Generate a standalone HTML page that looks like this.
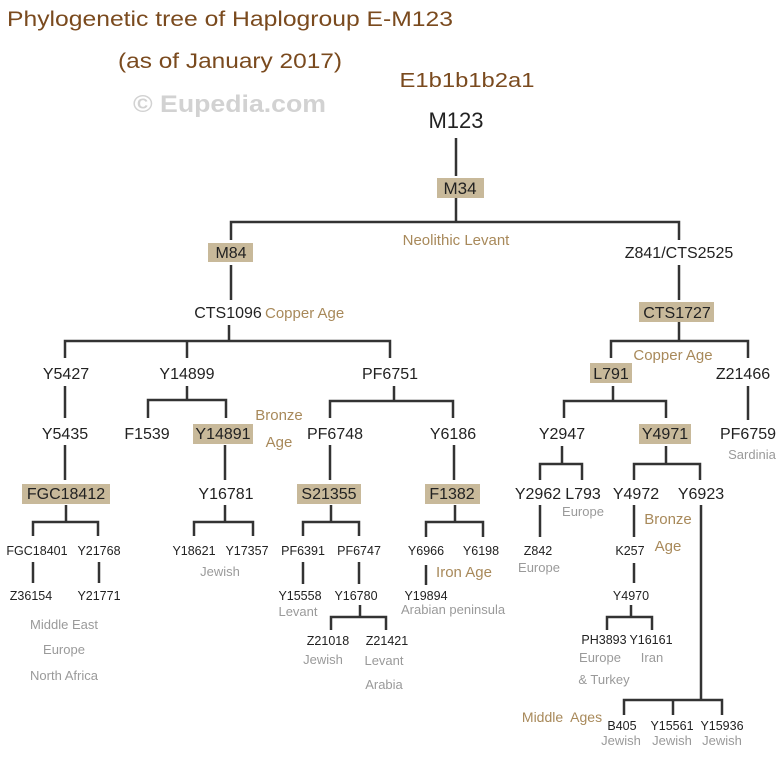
<!DOCTYPE html>
<html><head><meta charset="utf-8"><style>
html,body{margin:0;padding:0;background:#fff;}
svg{display:block;font-family:"Liberation Sans",sans-serif;}
.n{font-size:16px;fill:#222;text-anchor:middle;}
.s{font-size:12.5px;fill:#222;text-anchor:middle;}
.t{fill:#a8895a;text-anchor:middle;font-size:15px;}
.g{fill:#9a9a9a;text-anchor:middle;font-size:13px;}
line,polyline{stroke:#333;stroke-width:2.5;fill:none;}
rect{fill:#c8b99a;}
</style></head><body>
<svg width="780" height="758" viewBox="0 0 780 758">
<text x="7" y="26" font-size="21" fill="#7a4a1e" textLength="446" lengthAdjust="spacingAndGlyphs">Phylogenetic tree of Haplogroup E-M123</text>
<text x="118" y="68" font-size="21" fill="#7a4a1e" textLength="224" lengthAdjust="spacingAndGlyphs">(as of January 2017)</text>
<text x="467" y="87" font-size="20" fill="#7a4a1e" text-anchor="middle" textLength="135" lengthAdjust="spacingAndGlyphs">E1b1b1b2a1</text>
<text x="133" y="112" font-size="24" font-weight="bold" fill="#d2d2d2" textLength="193" lengthAdjust="spacingAndGlyphs">© Eupedia.com</text>

<text x="456" y="128" class="n" style="font-size:22px">M123</text>
<line x1="456" y1="138" x2="456" y2="176"/>
<rect x="437" y="178" width="47" height="20"/><text x="460" y="194" class="n" style="font-size:17px">M34</text>
<line x1="456" y1="198" x2="456" y2="222"/>
<polyline points="231,240 231,222 679,222 679,240"/>
<text x="456" y="245" class="t">Neolithic Levant</text>
<rect x="208" y="243" width="45" height="19"/><text x="231" y="258" class="n">M84</text>
<text x="679" y="258" class="n">Z841/CTS2525</text>
<line x1="231" y1="265" x2="231" y2="300"/>
<line x1="679" y1="265" x2="679" y2="300"/>
<text x="228" y="318" class="n">CTS1096</text>
<text x="265" y="318" class="t" style="text-anchor:start">Copper Age</text>
<rect x="639" y="302" width="75" height="20"/><text x="677" y="318" class="n">CTS1727</text>

<line x1="229" y1="325" x2="229" y2="341"/>
<polyline points="65,358 65,341 390,341 390,358"/>
<line x1="187" y1="341" x2="187" y2="358"/>
<line x1="679" y1="322" x2="679" y2="341"/>
<polyline points="611,358 611,341 748,341 748,358"/>
<text x="673" y="360" class="t">Copper Age</text>
<text x="66" y="379" class="n">Y5427</text>
<text x="187" y="379" class="n">Y14899</text>
<text x="390" y="379" class="n">PF6751</text>
<rect x="590" y="363" width="42" height="20"/><text x="611" y="379" class="n">L791</text>
<text x="743" y="379" class="n">Z21466</text>

<line x1="65" y1="386" x2="65" y2="418"/>
<line x1="187" y1="386" x2="187" y2="400"/>
<polyline points="148,418 148,400 226,400 226,418"/>
<line x1="394" y1="386" x2="394" y2="401"/>
<polyline points="330,418 330,401 453,401 453,418"/>
<line x1="613" y1="386" x2="613" y2="401"/>
<polyline points="564,418 564,401 666,401 666,418"/>
<line x1="748" y1="386" x2="748" y2="420"/>
<text x="65" y="439" class="n">Y5435</text>
<text x="147" y="439" class="n">F1539</text>
<rect x="193" y="424" width="60" height="20"/><text x="223" y="439" class="n">Y14891</text>
<text x="279" y="420" class="t">Bronze</text>
<text x="279" y="447" class="t">Age</text>
<text x="335" y="439" class="n">PF6748</text>
<text x="453" y="439" class="n">Y6186</text>
<text x="562" y="439" class="n">Y2947</text>
<rect x="639" y="424" width="52" height="20"/><text x="665" y="439" class="n">Y4971</text>
<text x="748" y="439" class="n">PF6759</text>
<text x="752" y="459" class="g">Sardinia</text>

<line x1="65" y1="445" x2="65" y2="480"/>
<line x1="225" y1="445" x2="225" y2="480"/>
<line x1="330" y1="445" x2="330" y2="480"/>
<line x1="454" y1="445" x2="454" y2="480"/>
<line x1="562" y1="446" x2="562" y2="464"/>
<polyline points="540,480 540,464 582,464 582,480"/>
<line x1="666" y1="446" x2="666" y2="464"/>
<polyline points="634,480 634,464 700,464 700,480"/>
<rect x="22" y="484" width="88" height="20"/><text x="66" y="499" class="n">FGC18412</text>
<text x="226" y="499" class="n">Y16781</text>
<rect x="297" y="484" width="64" height="20"/><text x="329" y="499" class="n">S21355</text>
<rect x="425" y="484" width="55" height="20"/><text x="452" y="499" class="n">F1382</text>
<text x="538" y="499" class="n">Y2962</text>
<text x="583" y="499" class="n">L793</text>
<text x="583" y="516" class="g">Europe</text>
<text x="636" y="499" class="n">Y4972</text>
<text x="701" y="499" class="n">Y6923</text>
<text x="668" y="524" class="t">Bronze</text>
<text x="668" y="551" class="t">Age</text>

<line x1="66" y1="505" x2="66" y2="522"/>
<polyline points="33,536 33,522 98,522 98,536"/>
<line x1="225" y1="505" x2="225" y2="522"/>
<polyline points="194,536 194,522 253,522 253,536"/>
<line x1="331" y1="505" x2="331" y2="522"/>
<polyline points="303,536 303,522 359,522 359,536"/>
<line x1="455" y1="505" x2="455" y2="522"/>
<polyline points="426,537 426,522 483,522 483,537"/>
<line x1="540" y1="505" x2="540" y2="537"/>
<line x1="634" y1="505" x2="634" y2="537"/>
<line x1="701" y1="505" x2="701" y2="700"/>

<text x="37" y="555" class="s">FGC18401</text>
<text x="99" y="555" class="s">Y21768</text>
<text x="194" y="555" class="s">Y18621</text>
<text x="247" y="555" class="s">Y17357</text>
<text x="220" y="576" class="g">Jewish</text>
<text x="303" y="555" class="s">PF6391</text>
<text x="359" y="555" class="s">PF6747</text>
<text x="426" y="555" class="s">Y6966</text>
<text x="481" y="555" class="s">Y6198</text>
<text x="464" y="577" class="t">Iron Age</text>
<text x="538" y="555" class="s">Z842</text>
<text x="539" y="572" class="g">Europe</text>
<text x="630" y="555" class="s">K257</text>

<line x1="33" y1="562" x2="33" y2="583"/>
<line x1="99" y1="562" x2="99" y2="583"/>
<line x1="303" y1="562" x2="303" y2="584"/>
<line x1="359" y1="562" x2="359" y2="584"/>
<line x1="426" y1="565" x2="426" y2="585"/>
<line x1="634" y1="563" x2="634" y2="583"/>
<text x="31" y="600" class="s">Z36154</text>
<text x="99" y="600" class="s">Y21771</text>
<text x="64" y="629" class="g">Middle East</text>
<text x="64" y="654" class="g">Europe</text>
<text x="64" y="680" class="g">North Africa</text>
<text x="300" y="600" class="s">Y15558</text>
<text x="298" y="616" class="g">Levant</text>
<text x="356" y="600" class="s">Y16780</text>
<text x="426" y="600" class="s">Y19894</text>
<text x="401" y="614" class="g" style="text-anchor:start">Arabian peninsula</text>
<text x="631" y="600" class="s">Y4970</text>

<line x1="360" y1="605" x2="360" y2="617"/>
<polyline points="331,630 331,617 386,617 386,630"/>
<line x1="631" y1="605" x2="631" y2="617"/>
<polyline points="607,630 607,617 652,617 652,630"/>
<text x="328" y="645" class="s">Z21018</text>
<text x="387" y="645" class="s">Z21421</text>
<text x="323" y="664" class="g">Jewish</text>
<text x="384" y="665" class="g">Levant</text>
<text x="384" y="689" class="g">Arabia</text>
<text x="604" y="644" class="s">PH3893</text>
<text x="651" y="644" class="s">Y16161</text>
<text x="600" y="662" class="g">Europe</text>
<text x="652" y="662" class="g">Iran</text>
<text x="604" y="684" class="g">&amp; Turkey</text>

<polyline points="624,715 624,700 722,700 722,715"/>
<line x1="673" y1="700" x2="673" y2="715"/>
<text x="562" y="722" class="t" style="font-size:14px" xml:space="preserve">Middle  Ages</text>
<text x="622" y="730" class="s">B405</text>
<text x="672" y="730" class="s">Y15561</text>
<text x="722" y="730" class="s">Y15936</text>
<text x="621" y="745" class="g">Jewish</text>
<text x="672" y="745" class="g">Jewish</text>
<text x="722" y="745" class="g">Jewish</text>
</svg>
</body></html>
